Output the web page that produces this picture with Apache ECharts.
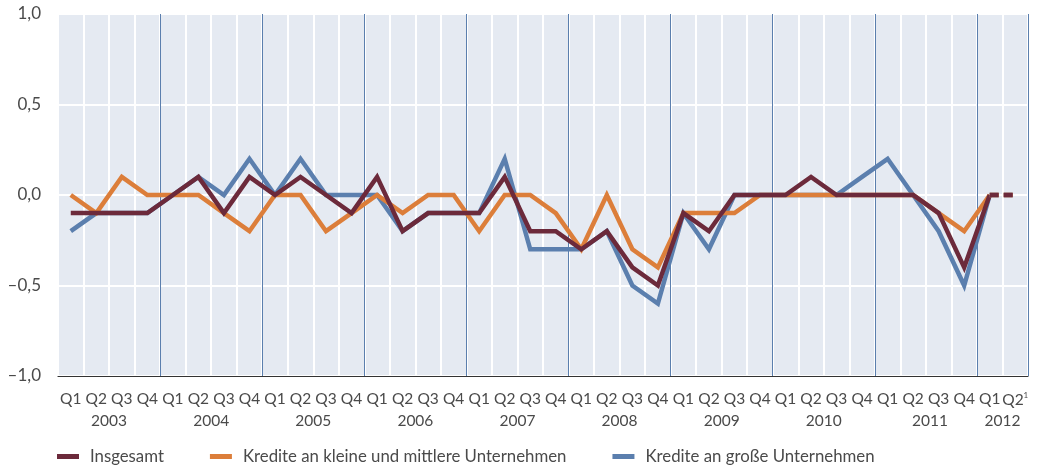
<!DOCTYPE html>
<html><head><meta charset="utf-8">
<script src="https://cdn.jsdelivr.net/npm/echarts@6/dist/echarts.min.js"></script>
<style>html,body{margin:0;padding:0;background:#fff}#c{width:1039px;height:466px}</style>
</head><body><div id="c"></div>
<script>
const quarters = ['Q1','Q2','Q3','Q4','Q1','Q2','Q3','Q4','Q1','Q2','Q3','Q4','Q1','Q2','Q3','Q4','Q1','Q2','Q3','Q4','Q1','Q2','Q3','Q4','Q1','Q2','Q3','Q4','Q1','Q2','Q3','Q4','Q1','Q2','Q3','Q4','Q1','Q2'];
const years = ['2003','2004','2005','2006','2007','2008','2009','2010','2011','2012'];
const yearCenters = [2,6,10,14,18,22,26,30,34,37];
const insgesamt = [-0.1,-0.1,-0.1,-0.1, 0.0,0.1,-0.1,0.1, 0.0,0.1,0.0,-0.1, 0.1,-0.2,-0.1,-0.1, -0.1,0.1,-0.2,-0.2, -0.3,-0.2,-0.4,-0.5, -0.1,-0.2,0.0,0.0, 0.0,0.1,0.0,0.0, 0.0,0.0,-0.1,-0.4, 0.0,0.0];
const kmu = [0.0,-0.1,0.1,0.0, 0.0,0.0,-0.1,-0.2, 0.0,0.0,-0.2,-0.1, 0.0,-0.1,0.0,0.0, -0.2,0.0,0.0,-0.1, -0.3,0.0,-0.3,-0.4, -0.1,-0.1,-0.1,0.0, 0.0,0.0,0.0,0.0, 0.0,0.0,-0.1,-0.2, 0.0,0.0];
const gross = [-0.2,-0.1,-0.1,-0.1, 0.0,0.1,0.0,0.2, 0.0,0.2,0.0,0.0, 0.0,-0.2,-0.1,-0.1, -0.1,0.2,-0.3,-0.3, -0.3,-0.2,-0.5,-0.6, -0.1,-0.3,0.0,0.0, 0.0,0.0,0.0,0.1, 0.2,0.0,-0.2,-0.5, 0.0,0.0];
const names = ['Insgesamt','Kredite an kleine und mittlere Unternehmen','Kredite an große Unternehmen'];
const colors = ['#6c2a3b','#dc7e3a','#5b7fae'];

const FONT = 'Lato';
const n = quarters.length;
function solid(a){ return a.map((v,i)=> i < n-1 ? v : null); }
function dashed(a){ return a.map((v,i)=> i >= n-2 ? v : null); }
function lineSeries(name, data, color, dash){
  return {name, type:'line', data, xAxisIndex:0, yAxisIndex:0, symbol:'none', silent:true,
    lineStyle:{color, width:4.5, type: dash ? [9,5] : 'solid', cap:'butt', join:'miter'},
    itemStyle:{color}, connectNulls:false, animation:false};
}
const series = [
  lineSeries(names[2], solid(gross), colors[2]),
  lineSeries(names[1], solid(kmu), colors[1]),
  lineSeries(names[0], solid(insgesamt), colors[0]),
  lineSeries(names[2], dashed(gross), colors[2], true),
  lineSeries(names[1], dashed(kmu), colors[1], true),
  lineSeries(names[0], dashed(insgesamt), colors[0], true)
];

const chart = echarts.init(document.getElementById('c'), null, {renderer:'canvas'});
chart.setOption({
  animation:false,
  textStyle:{fontFamily:FONT},
  grid:{left:58, right:11, top:14, bottom:90, show:true, backgroundColor:'#e5eaf2', borderWidth:0},
  legend:{data:names, left:52, top:443, itemWidth:22, itemHeight:5, itemGap:46, icon:'rect',
    textStyle:{fontFamily:FONT, fontSize:16.8, color:'#4a4a4a', padding:[0,0,0,6]}},
  xAxis:[
    {type:'category', data:quarters, boundaryGap:true, position:'bottom',
     axisLine:{show:false}, axisTick:{show:false},
     splitLine:{show:true, lineStyle:{color:'#ffffff', width:2}},
     axisLabel:{interval:0, margin:15, fontSize:15.5, color:'#4a4a4a', fontFamily:FONT,
       formatter:(v,i)=> i===n-1 ? v+'{s|1}' : v,
       rich:{s:{fontSize:8, color:'#4a4a4a', fontFamily:FONT, padding:[0,0,9,0]}}}},
    {type:'value', min:0, max:n, position:'bottom',
     axisLine:{show:false}, axisTick:{show:false}, splitLine:{show:false},
     axisLabel:{customValues:yearCenters, margin:37, fontSize:15.5, color:'#4a4a4a', fontFamily:FONT,
       formatter:(v)=>{ const k = yearCenters.indexOf(Math.round(v)); const y = k>=0?years[k]:''; return y==='2011' ? '{u|'+y+'}' : y; },
       rich:{u:{fontSize:15.5, color:'#4a4a4a', fontFamily:FONT, padding:[0,0,6,8]}}}},
    {type:'category', data:quarters, boundaryGap:true, position:'bottom',
     axisLine:{show:true, onZero:true, lineStyle:{color:'#333333', width:1.2}},
     axisTick:{show:false}, axisLabel:{show:false},
     splitLine:{show:true, interval:(i)=> i>0 && i%4===0, lineStyle:{color:'#5b7fae', width:1}}}
  ],
  yAxis:[{type:'value', min:-1, max:1, interval:0.5,
    axisLine:{show:false}, axisTick:{show:false},
    splitLine:{show:true, lineStyle:{color:'#ffffff', width:2}},
    axisLabel:{margin:17, fontSize:17, color:'#4a4a4a', fontFamily:FONT,
      formatter:(v)=> (v<0?'–':'') + Math.abs(v).toFixed(1).replace('.',',')}}],
  series
});
</script></body></html>
